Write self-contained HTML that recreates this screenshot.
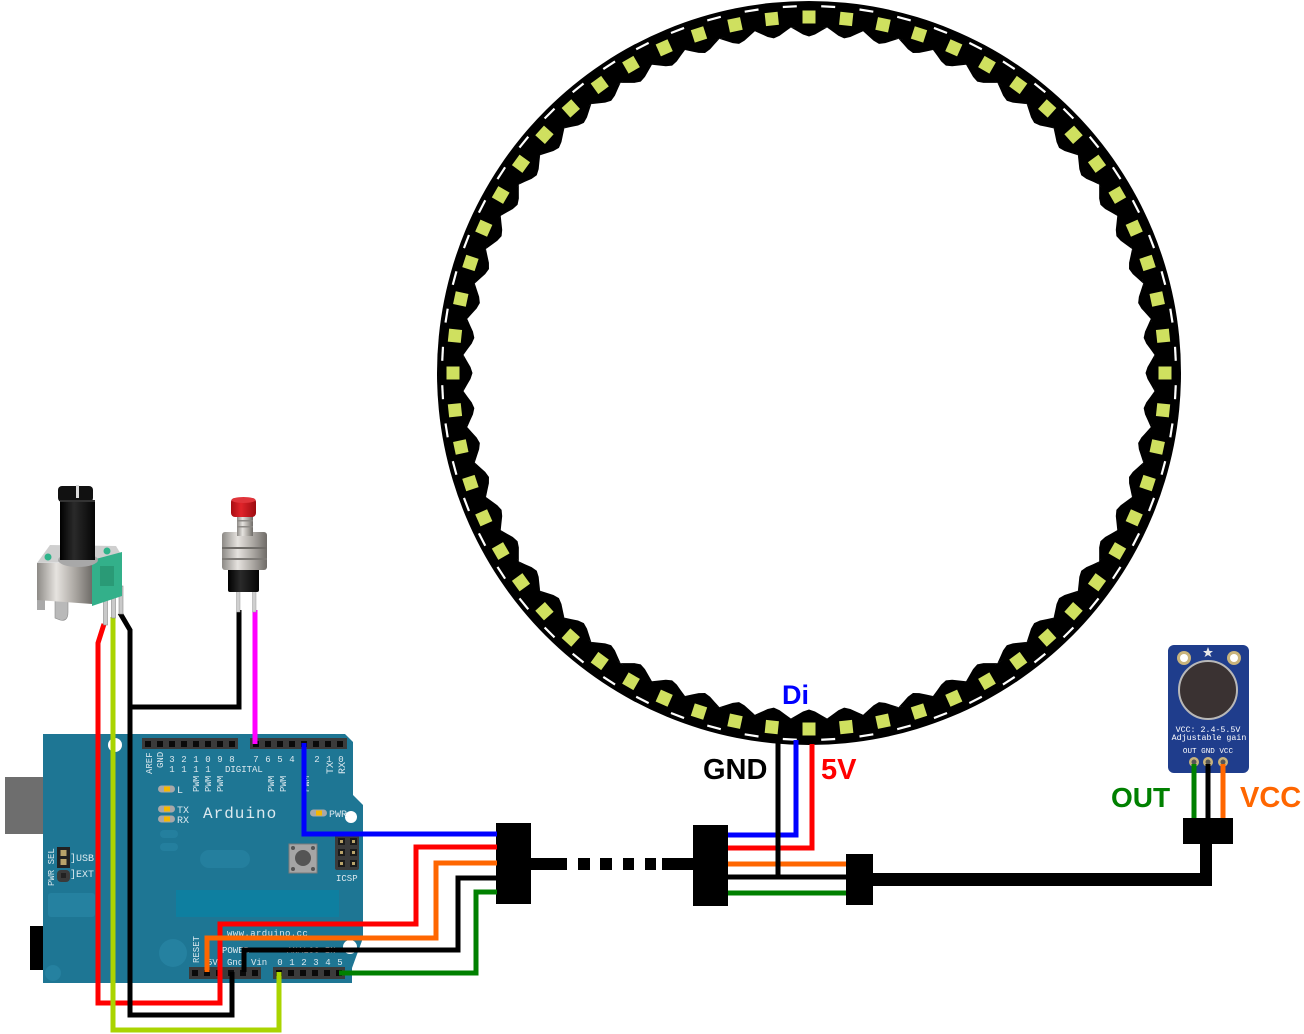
<!DOCTYPE html>
<html><head><meta charset="utf-8"><style>
html,body{margin:0;padding:0;background:#fff;}
svg{display:block;}
.m{font-family:"Liberation Mono",monospace;fill:#dce9ef;}
.lb{font-family:"Liberation Sans",sans-serif;font-weight:bold;}
</style></head><body>
<svg width="1304" height="1034" viewBox="0 0 1304 1034" xmlns="http://www.w3.org/2000/svg">
<defs>
  <g id="u">
    <polygon points="790.9,27.5 797,31 803,34.5 809,36.5 815,34.5 821,31 827.1,27.5 809,25.5" fill="#000"/>
    <rect x="802.5" y="10.5" width="13" height="13" fill="#cfe05f"/>
    <rect x="802" y="5" width="14" height="2.2" fill="#fff" transform="rotate(3 809 373)"/>
  </g>
  <g id="u5">
    <use href="#u"/>
    <use href="#u" transform="rotate(6 809 373)"/>
    <use href="#u" transform="rotate(12 809 373)"/>
    <use href="#u" transform="rotate(18 809 373)"/>
    <use href="#u" transform="rotate(24 809 373)"/>
  </g>
  <g id="u15">
    <use href="#u5"/>
    <use href="#u5" transform="rotate(30 809 373)"/>
    <use href="#u5" transform="rotate(60 809 373)"/>
  </g>
  <linearGradient id="silver" x1="0" x2="1" y1="0" y2="0">
    <stop offset="0" stop-color="#8d8a86"/><stop offset="0.35" stop-color="#e6e3df"/><stop offset="0.7" stop-color="#a9a5a0"/><stop offset="1" stop-color="#6f6c68"/>
  </linearGradient>
  <linearGradient id="blk" x1="0" x2="1" y1="0" y2="0">
    <stop offset="0" stop-color="#000"/><stop offset="0.4" stop-color="#2a2a2a"/><stop offset="1" stop-color="#050505"/>
  </linearGradient>
  <linearGradient id="redc" x1="0" x2="1" y1="0" y2="0">
    <stop offset="0" stop-color="#a80d12"/><stop offset="0.4" stop-color="#e0242a"/><stop offset="1" stop-color="#9c0b10"/>
  </linearGradient>
</defs>

<!-- LED ring -->
<circle cx="809" cy="373" r="372" fill="#000"/>
<circle cx="809" cy="373" r="346" fill="#fff"/>
<use href="#u15"/>
<use href="#u15" transform="rotate(90 809 373)"/>
<use href="#u15" transform="rotate(180 809 373)"/>
<use href="#u15" transform="rotate(270 809 373)"/>

<!-- ring wires -->
<g fill="none" stroke-width="5" stroke-linejoin="miter">
  <path d="M728,835 L796,835 L796,740" stroke="#0000ff"/>
  <path d="M728,848 L812,848 L812,744" stroke="#ff0000"/>
  <path d="M728,864 L846,864" stroke="#ff6600"/>
  <path d="M728,877 L846,877" stroke="#000"/>
  <path d="M778,740 L778,877" stroke="#000"/>
  <path d="M728,893 L846,893" stroke="#008000"/>
  <path d="M1194,762 L1194,818" stroke="#008000"/>
  <path d="M1208,762 L1208,818" stroke="#000"/>
  <path d="M1223,762 L1223,818" stroke="#ff6600"/>
</g>

<!-- labels -->
<text x="782" y="704" class="lb" font-size="27" fill="#0000ff">Di</text>
<text x="703" y="779" class="lb" font-size="29" fill="#000">GND</text>
<text x="821" y="779" class="lb" font-size="29" fill="#ff0000">5V</text>
<text x="1111" y="807" class="lb" font-size="28" fill="#008000">OUT</text>
<text x="1240" y="807" class="lb" font-size="29" fill="#ff6600">VCC</text>

<!-- connectors and cables -->
<g fill="#000">
  <rect x="496" y="823" width="35" height="81"/>
  <rect x="693" y="825" width="35" height="81"/>
  <rect x="846" y="854" width="27" height="51"/>
  <rect x="1183" y="818" width="50" height="26"/>
  <rect x="531" y="858" width="36" height="12"/>
  <rect x="578" y="858" width="12" height="12"/>
  <rect x="600" y="858" width="12" height="12"/>
  <rect x="623" y="858" width="11" height="12"/>
  <rect x="645" y="858" width="11" height="12"/>
  <rect x="662" y="858" width="31" height="12"/>
  <rect x="873" y="873" width="339" height="13"/>
  <rect x="1200" y="844" width="12" height="42"/>
</g>

<!-- Arduino board -->
<rect x="5" y="777" width="78" height="57" fill="#6e6e6e"/>
<rect x="70" y="777" width="13" height="57" fill="#767676"/>
<rect x="30" y="926" width="64" height="44" fill="#000"/>
<polygon points="43,734 345,734 353,742 353,795 363,805 363,938 352,968 352,983 43,983" fill="#1e7694"/>
<rect x="48" y="893" width="47" height="24" rx="3" fill="#2581a0"/>
<circle cx="173" cy="953" r="14" fill="#2581a0"/>
<circle cx="53" cy="973" r="8" fill="#2581a0"/>
<rect x="176" y="890" width="163" height="27" fill="#0e7fa0"/>
<rect x="200" y="850" width="50" height="18" rx="9" fill="#247f9e"/>
<rect x="160" y="830" width="18" height="8" rx="4" fill="#247f9e"/>
<rect x="160" y="843" width="18" height="8" rx="4" fill="#247f9e"/>
<circle cx="115" cy="745" r="7" fill="#fff"/>
<circle cx="351" cy="817" r="6" fill="#fff"/>
<circle cx="350" cy="947" r="7" fill="#fff"/>

<!-- headers -->
<g>
  <rect x="142" y="738" width="96" height="11" fill="#3b3b3b"/>
  <rect x="250" y="738" width="97" height="11" fill="#3b3b3b"/>
  <rect x="189" y="967" width="72" height="12" fill="#3b3b3b"/>
  <rect x="273" y="967" width="72" height="12" fill="#3b3b3b"/>
  <g fill="#0a0a0a">
    <rect x="145" y="741" width="6" height="6"/><rect x="157" y="741" width="6" height="6"/><rect x="169" y="741" width="6" height="6"/><rect x="181" y="741" width="6" height="6"/><rect x="193" y="741" width="6" height="6"/><rect x="205" y="741" width="6" height="6"/><rect x="217" y="741" width="6" height="6"/><rect x="229" y="741" width="6" height="6"/>
    <rect x="253" y="741" width="6" height="6"/><rect x="265" y="741" width="6" height="6"/><rect x="277" y="741" width="6" height="6"/><rect x="289" y="741" width="6" height="6"/><rect x="301" y="741" width="6" height="6"/><rect x="313" y="741" width="6" height="6"/><rect x="325" y="741" width="6" height="6"/><rect x="337" y="741" width="6" height="6"/>
    <rect x="192" y="970" width="6" height="6"/><rect x="204" y="970" width="6" height="6"/><rect x="216" y="970" width="6" height="6"/><rect x="228" y="970" width="6" height="6"/><rect x="240" y="970" width="6" height="6"/><rect x="252" y="970" width="6" height="6"/>
    <rect x="276" y="970" width="6" height="6"/><rect x="288" y="970" width="6" height="6"/><rect x="300" y="970" width="6" height="6"/><rect x="312" y="970" width="6" height="6"/><rect x="324" y="970" width="6" height="6"/><rect x="336" y="970" width="6" height="6"/>
  </g>
</g>

<!-- ICSP -->
<rect x="335" y="835" width="24" height="35" rx="2" fill="#3b3b3b"/>
<g fill="#1a1a1a">
  <rect x="338" y="838" width="7" height="7"/><rect x="350" y="838" width="7" height="7"/>
  <rect x="338" y="849" width="7" height="7"/><rect x="350" y="849" width="7" height="7"/>
  <rect x="338" y="860" width="7" height="7"/><rect x="350" y="860" width="7" height="7"/>
</g>
<g fill="#b9a36a">
  <rect x="340" y="840" width="3" height="3"/><rect x="352" y="840" width="3" height="3"/>
  <rect x="340" y="851" width="3" height="3"/><rect x="352" y="851" width="3" height="3"/>
  <rect x="340" y="862" width="3" height="3"/><rect x="352" y="862" width="3" height="3"/>
</g>
<text x="336" y="881" class="m" font-size="9">ICSP</text>

<!-- reset button -->
<rect x="289" y="844" width="28" height="29" fill="#a5a5a5" stroke="#7a7a7a"/>
<circle cx="303" cy="858" r="8" fill="#555"/>
<circle cx="293" cy="848" r="2" fill="#555"/><circle cx="313" cy="848" r="2" fill="#555"/>
<circle cx="293" cy="869" r="2" fill="#555"/><circle cx="313" cy="869" r="2" fill="#555"/>

<!-- LEDs -->
<rect x="158" y="785.5" width="17" height="7" rx="3.5" fill="#a8a8a8"/><rect x="164" y="786.5" width="6" height="5" fill="#f5b800"/>
<rect x="158" y="805.5" width="17" height="7" rx="3.5" fill="#a8a8a8"/><rect x="164" y="806.5" width="6" height="5" fill="#f5b800"/>
<rect x="158" y="815.5" width="17" height="7" rx="3.5" fill="#a8a8a8"/><rect x="164" y="816.5" width="6" height="5" fill="#f5b800"/>
<rect x="310" y="809.5" width="17" height="7" rx="3.5" fill="#a8a8a8"/><rect x="316" y="810.5" width="6" height="5" fill="#f5b800"/>

<!-- PWR SEL jumper -->
<rect x="57" y="847" width="13" height="21" fill="#222"/>
<rect x="60.5" y="850" width="6" height="6" fill="#b9a36a"/>
<rect x="60.5" y="859" width="6" height="6" fill="#b9a36a"/>
<rect x="57" y="870" width="13" height="12" rx="4" fill="#3a3a3a"/>
<rect x="61" y="873" width="5" height="5" fill="#222"/>

<!-- board text -->
<g class="m" font-size="9">
  <text transform="translate(152,774) rotate(-90)">AREF</text>
  <text transform="translate(163,768) rotate(-90)">GND</text>
  <g text-anchor="middle">
    <text x="172" y="762">3</text><text x="184" y="762">2</text><text x="196" y="762">1</text><text x="208" y="762">0</text><text x="220" y="762">9</text><text x="232" y="762">8</text>
    <text x="172" y="772">1</text><text x="184" y="772">1</text><text x="196" y="772">1</text><text x="208" y="772">1</text>
    <text x="256" y="762">7</text><text x="268" y="762">6</text><text x="280" y="762">5</text><text x="292" y="762">4</text><text x="304" y="762">3</text><text x="317" y="762">2</text><text x="329" y="762">1</text><text x="341" y="762">0</text>
    <text x="280" y="965">0</text><text x="292" y="965">1</text><text x="304" y="965">2</text><text x="316" y="965">3</text><text x="328" y="965">4</text><text x="340" y="965">5</text>
  </g>
  <text x="225" y="772">DIGITAL</text>
  <text transform="translate(199,792) rotate(-90)">PWM</text>
  <text transform="translate(211,792) rotate(-90)">PWM</text>
  <text transform="translate(223,792) rotate(-90)">PWM</text>
  <text transform="translate(274,792) rotate(-90)">PWM</text>
  <text transform="translate(286,792) rotate(-90)">PWM</text>
  <text transform="translate(309,792) rotate(-90)">PWM</text>
  <text transform="translate(333,774) rotate(-90)" font-size="10">TX</text>
  <text transform="translate(345,774) rotate(-90)" font-size="10">RX</text>
  <text x="177" y="793" font-size="10">L</text>
  <text x="177" y="813" font-size="10">TX</text>
  <text x="177" y="823" font-size="10">RX</text>
  <text x="329" y="817" font-size="10">PWR</text>
  <text transform="translate(54,886) rotate(-90)">PWR SEL</text>
  <text x="70" y="861" font-size="10">]USB</text>
  <text x="70" y="877" font-size="10">]EXT</text>
  <text x="227" y="936" letter-spacing="0.4">www.arduino.cc</text>
  <text transform="translate(199,963) rotate(-90)">RESET</text>
  <text x="222" y="953">POWER</text>
  <text x="287" y="953">ANALOG IN</text>
  <text x="207" y="965">5V</text>
  <text x="227" y="965">Gnd</text>
  <text x="251" y="965">Vin</text>
</g>
<text x="203" y="818" class="m" font-size="16" letter-spacing="1">Arduino</text>

<!-- wires over Arduino -->
<g fill="none" stroke-width="5" stroke-linejoin="miter">
  <path d="M104,624 L98,643 L98,1003 L220,1003 L220,924 L416,924 L416,847 L497,847" stroke="#ff0000"/>
  <path d="M113,617 L113,1030 L279,1030 L279,972" stroke="#aad400"/>
  <path d="M120,613 L130,630 L130,1015 L232,1015 L232,972" stroke="#000"/>
  <path d="M239,610 L239,707 L130,707" stroke="#000"/>
  <path d="M255,610 L255,744" stroke="#ff00ff"/>
  <path d="M304,743 L304,834 L497,834" stroke="#0000ff"/>
  <path d="M207,972 L207,938 L436,938 L436,863 L497,863" stroke="#ff6600"/>
  <path d="M244,972 L244,950 L458,950 L458,878 L497,878" stroke="#000"/>
  <path d="M339,973 L476,973 L476,892 L497,892" stroke="#008000"/>
</g>

<!-- potentiometer -->
<g>
  <rect x="103.5" y="588" width="4" height="37" fill="#c9c9c9" stroke="#8a8a8a" stroke-width="0.6"/>
  <rect x="111.5" y="588" width="4" height="30" fill="#c9c9c9" stroke="#8a8a8a" stroke-width="0.6"/>
  <rect x="119" y="586" width="4" height="28" fill="#c9c9c9" stroke="#8a8a8a" stroke-width="0.6"/>
  <path d="M55,598 L68,598 L68,612 Q68,622 60,620 L55,618 Z" fill="#b9b9b9" stroke="#8a8a8a" stroke-width="0.6"/>
  <rect x="37" y="596" width="8" height="14" fill="#a9a9a9"/>
  <polygon points="50,545 116,546 122,556 95,562 37,563" fill="#cfcfcf"/>
  <polygon points="37,563 92,563 92,604 37,600" fill="url(#silver)"/>
  <polygon points="92,560 122,552 122,596 92,606" fill="#33b08a"/>
  <rect x="100" y="566" width="14" height="20" fill="#2a9a76"/>
  <circle cx="48" cy="557" r="3.5" fill="#2fb38a"/>
  <circle cx="107" cy="551" r="3.5" fill="#2fb38a"/>
  <ellipse cx="78" cy="560" rx="20" ry="7" fill="#a8a8a8"/>
  <rect x="60" y="500" width="35" height="60" fill="url(#blk)"/>
  <rect x="58" y="486" width="35" height="16" rx="4" fill="#111"/>
  <rect x="76" y="485" width="3" height="13" fill="#ddd"/>
  <rect x="60" y="500" width="35" height="2" fill="#333"/>
</g>

<!-- push button -->
<g>
  <rect x="236.5" y="588" width="3.5" height="24" fill="#cfcfcf" stroke="#999" stroke-width="0.5"/>
  <rect x="252.5" y="588" width="3.5" height="24" fill="#cfcfcf" stroke="#999" stroke-width="0.5"/>
  <rect x="228" y="568" width="31" height="24" rx="2" fill="url(#blk)"/>
  <rect x="222" y="532" width="45" height="38" rx="3" fill="url(#silver)"/>
  <rect x="222" y="547" width="45" height="2" fill="#6f6c68"/>
  <rect x="222" y="558" width="45" height="2" fill="#7d7a76"/>
  <rect x="237" y="516" width="16" height="20" fill="url(#silver)"/>
  <rect x="237" y="520" width="16" height="1.5" fill="#8d8a86"/>
  <rect x="237" y="526" width="16" height="1.5" fill="#8d8a86"/>
  <rect x="231" y="498" width="25" height="19" rx="4" fill="url(#redc)"/>
  <ellipse cx="243.5" cy="500" rx="12" ry="3" fill="#e0343a"/>
</g>

<!-- microphone module -->
<g>
  <rect x="1168" y="645" width="81" height="128" rx="6" fill="#1f3d8c"/>
  <circle cx="1184" cy="658" r="7" fill="#c9b47c"/><circle cx="1184" cy="658" r="4" fill="#fff"/>
  <circle cx="1234" cy="658" r="7" fill="#c9b47c"/><circle cx="1234" cy="658" r="4" fill="#fff"/>
  <polygon points="1208,647 1209.5,651 1213,651 1210,653.5 1211.5,657 1208,655 1204.5,657 1206,653.5 1203,651 1206.5,651" fill="#e8e8e8"/>
  <circle cx="1208" cy="690" r="29" fill="#3a3232" stroke="#b8b8b8" stroke-width="2"/>
  <g font-family="Liberation Mono, monospace" font-size="8.3" fill="#fff" text-anchor="middle">
    <text x="1208" y="732">VCC: 2.4-5.5V</text>
    <text x="1209" y="740">Adjustable gain</text>
    <text x="1208" y="753" font-size="7.6">OUT GND VCC</text>
  </g>
  <circle cx="1194" cy="762" r="5" fill="#c9b47c"/><circle cx="1194" cy="762" r="2.5" fill="#555"/>
  <circle cx="1208" cy="762" r="5" fill="#c9b47c"/><circle cx="1208" cy="762" r="2.5" fill="#555"/>
  <circle cx="1223" cy="762" r="5" fill="#c9b47c"/><circle cx="1223" cy="762" r="2.5" fill="#555"/>
</g>
<g fill="none" stroke-width="5">
  <path d="M1194,764 L1194,818" stroke="#008000"/>
  <path d="M1208,764 L1208,818" stroke="#000"/>
  <path d="M1223,764 L1223,818" stroke="#ff6600"/>
</g>
</svg>
</body></html>
